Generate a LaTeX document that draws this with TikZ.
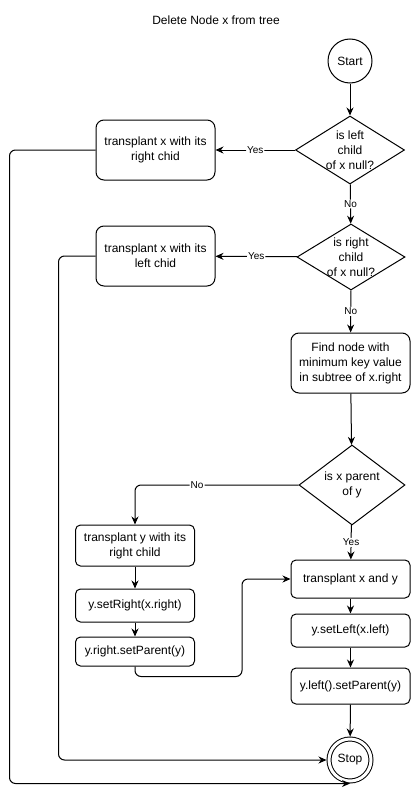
\documentclass[tikz,border=0pt]{standalone}
\usepackage{fontspec}
\setmainfont{Liberation Sans}
\usetikzlibrary{shapes.geometric,arrows.meta}

\begin{document}
\begin{tikzpicture}[x=1pt,y=-1pt,line width=1pt,
        font=\fontsize{12}{15}\selectfont,
        box/.style = {draw, rounded corners=8pt, align=center,
            minimum width=119pt, minimum height=60pt, inner sep=0pt},
        smallbox/.style = {draw, rounded corners=5pt, align=center,
            minimum width=119pt, inner sep=0pt},
        decision/.style = {draw, diamond, inner sep=0pt},
        terminal/.style = {draw, circle, minimum size=44pt, inner sep=0pt},
        arrow/.style = {-{Stealth[length=8pt,width=7pt]}, rounded corners=6pt},
        lbl/.style = {fill=white, inner sep=1pt,
            font=\fontsize{10}{12}\selectfont}]

        \useasboundingbox (0,0) rectangle (412,800);

        % Title
        \node (title) at (216,20) {Delete Node x from tree};

        % Start and first tests
        \node[terminal] (start) at (350,61) {Start};
        \node[decision, minimum width=109pt, minimum height=68pt,
            label={[align=center]center:is left\\child\\of x null?}] (d1) at (350,150) {};
        \node[decision, minimum width=108pt, minimum height=66pt,
            label={[align=center]center:is right\\child\\of x null?}] (d2) at (351,257) {};
        \node[box] (b1) at (155.5,150) {transplant x with its\\right chid};
        \node[box] (b2) at (155.5,256) {transplant x with its\\left chid};

        % Successor
        \node[box] (b3) at (350.5,363) {Find node with\\minimum key value\\in subtree of x.right};
        \node[decision, minimum width=106pt, minimum height=80pt,
            label={[align=center]center:is x parent\\of y}] (d3) at (352,485) {};

        % Left branch
        \node[smallbox, minimum height=41pt] (b4) at (135,545.5) {transplant y with its\\right child};
        \node[smallbox, minimum height=33pt] (b5) at (135,605.5) {y.setRight(x.right)};
        \node[smallbox, minimum height=29pt] (b6) at (135,651.5) {y.right.setParent(y)};

        % Right branch
        \node[smallbox, minimum height=38pt] (b7) at (350.5,579) {transplant x and y};
        \node[smallbox, minimum height=33pt] (b8) at (350.5,630.5) {y.setLeft(x.left)};
        \node[smallbox, minimum height=36pt] (b9) at (350.5,686) {y.left().setParent(y)};

        % Stop
        \node[terminal, double, double distance=3pt, minimum size=42pt,
            outer sep=2.5pt] (stop) at (350,760) {Stop};

        % Connectors
        \draw[arrow] (start) -- (d1);
        \draw[arrow] (d1) -- node[lbl] {Yes} (b1);
        \draw[arrow] (d1) -- node[lbl] {No} (d2);
        \draw[arrow] (d2) -- node[lbl] {Yes} (b2);
        \draw[arrow] (d2) -- node[lbl] {No} (b3);
        \draw[arrow] (b3) -- (d3);
        \draw[arrow] (d3.west) -| node[lbl, pos=0.31] {No} (b4.north);
        \draw[arrow] (d3) -- node[lbl] {Yes} (b7);
        \draw[arrow] (b4) -- (b5);
        \draw[arrow] (b5) -- (b6);
        \draw[arrow] (b6.south) -- ++(0,10) -- ++(107,0) |- (b7.west);
        \draw[arrow] (b7) -- (b8);
        \draw[arrow] (b8) -- (b9);
        \draw[arrow] (b9) -- (stop);
        \draw[arrow] (b1.west) -- ++(-86,0) |- (stop.south);
        \draw[arrow] (b2.west) -- ++(-37,0) |- (stop.west);
    \end{tikzpicture}
\end{document}
